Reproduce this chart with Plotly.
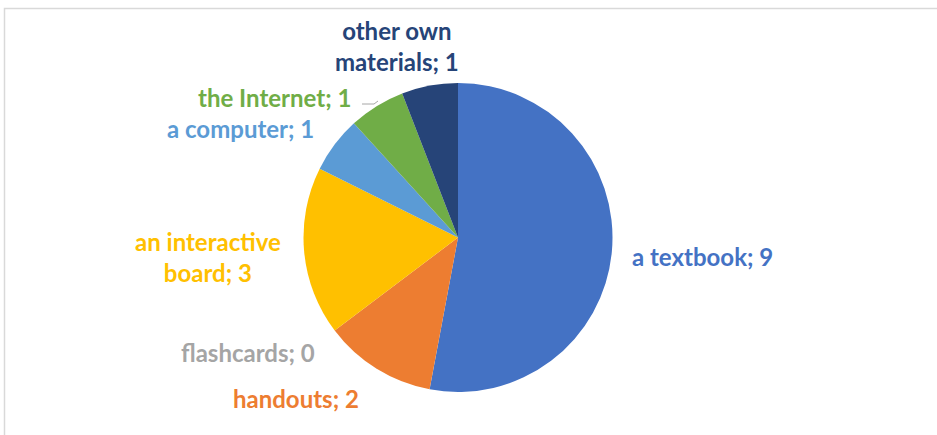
import plotly.graph_objects as go

# Teaching resources used in class (number of answers)
categories = ["a textbook", "handouts", "flashcards", "an interactive board",
              "a computer", "the Internet", "other own materials"]
values = [9, 2, 0, 3, 1, 1, 1]
colors = ["#4472C4", "#ED7D31", "#A5A5A5", "#FFC000",
          "#5B9BD5", "#70AD47", "#264478"]

# Where each outside label sits (pixel centre) and how it wraps
label_pos = {
    "a textbook": (702, 256),
    "handouts": (296, 398),
    "flashcards": (248, 352),
    "an interactive board": (208, 257),
    "a computer": (240, 128),
    "the Internet": (274, 97),
    "other own materials": (397, 46),
}
wraps = {"an interactive board": "an interactive<br>board",
         "other own materials": "other own<br>materials"}

W, H = 937, 435
cx, cy, r = 458, 237.5, 154.5

fig = go.Figure(go.Pie(
    labels=categories,
    values=values,
    sort=False,
    direction="clockwise",
    rotation=0,
    marker=dict(colors=colors, line=dict(width=0)),
    textinfo="none",
    hoverinfo="label+value",
    showlegend=False,
    domain=dict(x=[(cx - r) / W, (cx + r) / W],
                y=[(H - cy - r) / H, (H - cy + r) / H]),
))

annotations = []
for cat, val, col in zip(categories, values, colors):
    px, py = label_pos[cat]
    annotations.append(dict(
        x=px / W, y=1 - py / H, xref="paper", yref="paper",
        text=f"<b>{wraps.get(cat, cat)}; {val}</b>",
        showarrow=False, xanchor="center", yanchor="middle",
        font=dict(family="Lato", size=24, color=col),
        align="center",
    ))

shapes = [
    # chart area frame
    dict(type="rect", xref="paper", yref="paper",
         x0=4.5 / W, x1=1.02, y0=-0.05, y1=1 - 8.5 / H,
         line=dict(color="#D9D9D9", width=1.5), fillcolor="rgba(0,0,0,0)"),
    # leader line for the Internet label
    dict(type="path", xref="paper", yref="paper",
         path=f"M {362 / W},{1 - 104 / H} L {374 / W},{1 - 104 / H} L {378 / W},{1 - 101 / H}",
         line=dict(color="#A6A6A6", width=1)),
]

fig.update_layout(
    width=W, height=H,
    margin=dict(l=0, r=0, t=0, b=0),
    paper_bgcolor="white", plot_bgcolor="white",
    annotations=annotations, shapes=shapes,
)

fig.write_html("out.html")
